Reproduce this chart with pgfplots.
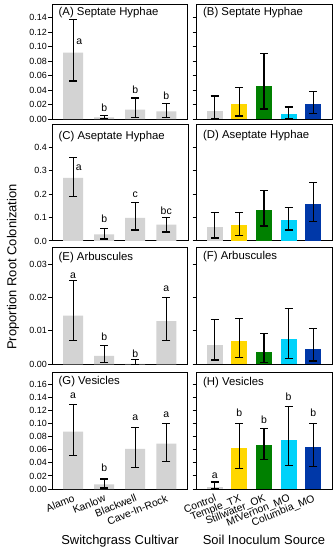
\documentclass[border=0pt]{standalone}
\usepackage{fontspec}
\setmainfont{Liberation Sans}
\usepackage{pgfplots}
\pgfplotsset{compat=1.18}

\definecolor{bargray}{RGB}{211,211,211}
\definecolor{bgold}{RGB}{255,215,0}
\definecolor{bgreen}{RGB}{0,128,0}
\definecolor{bcyan}{RGB}{0,210,250}
\definecolor{bblue}{RGB}{0,56,168}

\pgfplotsset{
  panel/.style={
    scale only axis, width=136bp, ymin=0,
    axis line style={line width=1bp},
    every tick/.style={line width=1bp, black},
    tick align=outside, major tick length=3.5bp,
    ytick pos=left,
    x tick style={draw=none},
    ybar, bar shift=0pt,
    scaled y ticks=false,
    /pgf/number format/assume math mode=true,
    yticklabel style={font=\fontsize{9}{10}\selectfont, inner sep=1.5bp},
    xticklabel style={rotate=22, anchor=north east, font=\fontsize{10.5}{12}\selectfont, inner sep=1bp},
    xlabel style={at={(axis description cs:0.5,0)}, anchor=base, yshift=-55bp, font=\fontsize{13}{15}\selectfont},
  },
  leftp/.style={panel, xmin=-0.68, xmax=3.7, bar width=20bp, xtick={0,1,2,3}},
  rightp/.style={panel, xmin=-0.76, xmax=4.76, bar width=16bp, xtick={0,1,2,3,4}, yticklabels={}},
  fmt2/.style={yticklabel style={/pgf/number format/fixed, /pgf/number format/fixed zerofill, /pgf/number format/precision=2}},
  fmt1/.style={yticklabel style={/pgf/number format/fixed, /pgf/number format/fixed zerofill, /pgf/number format/precision=1}},
  eb/.style={error bars/.cd, y dir=both, y explicit,
    error bar style={draw=black, line width=1.1bp},
    error mark options={rotate=90, draw=black, mark size=4bp, line width=1.1bp}},
}
\tikzset{
  ttl/.style={anchor=base west, inner sep=0pt, font=\fontsize{11.4}{13}\selectfont},
  lt/.style={inner sep=0pt, font=\fontsize{10.5}{12}\selectfont},
}

\begin{document}
\begin{tikzpicture}
\useasboundingbox (0,0) rectangle (335bp,-550bp);

% ---------- (A) ----------
\begin{axis}[leftp, fmt2, at={(52bp,-4bp)}, anchor=north west, height=115bp, ymax=0.159,
  ytick={0,0.02,0.04,0.06,0.08,0.10,0.12,0.14}, xticklabels={}]
\addplot[fill=bargray, draw=none, eb] coordinates {
  (0,0.0917) += (0,0.0460) -= (0,0.0392)
  (1,0.0023) += (0,0.0027) -= (0,0.0018)
  (2,0.0129) += (0,0.0161) -= (0,0.0106)
  (3,0.0106) += (0,0.0106) -= (0,0.0083)
};
\node[lt] at (axis cs:0.2,0.107) {a};
\node[lt] at (axis cs:1,0.016) {b};
\node[lt] at (axis cs:2,0.040) {b};
\node[lt] at (axis cs:3,0.032) {b};
\node[ttl] at ([xshift=6.5bp,yshift=-11bp]rel axis cs:0,1) {(A) Septate Hyphae};
\end{axis}

% ---------- (B) ----------
\begin{axis}[rightp, at={(196bp,-4bp)}, anchor=north west, height=115bp, ymax=0.159,
  ytick={0,0.02,0.04,0.06,0.08,0.10,0.12,0.14}, xticklabels={}]
\addplot[fill=bargray, draw=none, eb] coordinates {(0,0.0110) += (0,0.0208) -= (0,0.0110)};
\addplot[fill=bgold, draw=none, eb] coordinates {(1,0.0203) += (0,0.0235) -= (0,0.0162)};
\addplot[fill=bgreen, draw=none, eb] coordinates {(2,0.0451) += (0,0.0456) -= (0,0.0313)};
\addplot[fill=bcyan, draw=none, eb] coordinates {(3,0.0064) += (0,0.0102) -= (0,0.0054)};
\addplot[fill=bblue, draw=none, eb] coordinates {(4,0.0207) += (0,0.0175) -= (0,0.0129)};
\node[ttl] at ([xshift=7bp,yshift=-11bp]rel axis cs:0,1) {(B) Septate Hyphae};
\end{axis}

% ---------- (C) ----------
\begin{axis}[leftp, fmt1, at={(52bp,-124bp)}, anchor=north west, height=117bp, ymax=0.5,
  ytick={0,0.1,0.2,0.3,0.4}, xticklabels={}]
\addplot[fill=bargray, draw=none, eb] coordinates {
  (0,0.2700) += (0,0.0860) -= (0,0.0810)
  (1,0.0286) += (0,0.0244) -= (0,0.0200)
  (2,0.0986) += (0,0.0654) -= (0,0.0516)
  (3,0.0700) += (0,0.0310) -= (0,0.0314)
};
\node[lt] at (axis cs:0.18,0.314) {a};
\node[lt] at (axis cs:1,0.096) {b};
\node[lt] at (axis cs:2,0.196) {c};
\node[lt] at (axis cs:3,0.129) {bc};
\node[ttl] at ([xshift=6.5bp,yshift=-15bp]rel axis cs:0,1) {(C) Aseptate Hyphae};
\end{axis}

% ---------- (D) ----------
\begin{axis}[rightp, at={(196bp,-124bp)}, anchor=north west, height=117bp, ymax=0.5,
  ytick={0,0.1,0.2,0.3,0.4}, xticklabels={}]
\addplot[fill=bargray, draw=none, eb] coordinates {(0,0.0586) += (0,0.0644) -= (0,0.0456)};
\addplot[fill=bgold, draw=none, eb] coordinates {(1,0.0670) += (0,0.0560) -= (0,0.0430)};
\addplot[fill=bgreen, draw=none, eb] coordinates {(2,0.1330) += (0,0.0830) -= (0,0.0690)};
\addplot[fill=bcyan, draw=none, eb] coordinates {(3,0.0910) += (0,0.0520) -= (0,0.0440)};
\addplot[fill=bblue, draw=none, eb] coordinates {(4,0.1600) += (0,0.0910) -= (0,0.0760)};
\node[ttl] at ([xshift=7bp,yshift=-14bp]rel axis cs:0,1) {(D) Aseptate Hyphae};
\end{axis}

% ---------- (E) ----------
\begin{axis}[leftp, fmt2, at={(52bp,-247.3bp)}, anchor=north west, height=117bp, ymax=0.035,
  ytick={0,0.01,0.02,0.03}, xticklabels={}]
\addplot[fill=bargray, draw=none, eb] coordinates {
  (0,0.01455) += (0,0.01045) -= (0,0.00755)
  (1,0.0025) += (0,0.0031) -= (0,0.0020)
  (2,0.0001) += (0,0.0013) -= (0,0.0001)
  (3,0.0129) += (0,0.0071) -= (0,0.0058)
};
\node[lt] at (axis cs:0,0.0265) {a};
\node[lt] at (axis cs:1,0.0083) {b};
\node[lt] at (axis cs:2,0.0033) {b};
\node[lt] at (axis cs:3,0.0227) {a};
\node[ttl] at ([xshift=6.5bp,yshift=-13.4bp]rel axis cs:0,1) {(E) Arbuscules};
\end{axis}

% ---------- (F) ----------
\begin{axis}[rightp, at={(196bp,-247.3bp)}, anchor=north west, height=117bp, ymax=0.035,
  ytick={0,0.01,0.02,0.03}, xticklabels={}]
\addplot[fill=bargray, draw=none, eb] coordinates {(0,0.0057) += (0,0.0076) -= (0,0.0044)};
\addplot[fill=bgold, draw=none, eb] coordinates {(1,0.0070) += (0,0.0068) -= (0,0.0049)};
\addplot[fill=bgreen, draw=none, eb] coordinates {(2,0.0038) += (0,0.0054) -= (0,0.0032)};
\addplot[fill=bcyan, draw=none, eb] coordinates {(3,0.0075) += (0,0.0091) -= (0,0.0058)};
\addplot[fill=bblue, draw=none, eb] coordinates {(4,0.0047) += (0,0.0060) -= (0,0.0037)};
\node[ttl] at ([xshift=7bp,yshift=-12bp]rel axis cs:0,1) {(F) Arbuscules};
\end{axis}

% ---------- (G) ----------
\begin{axis}[leftp, fmt2, at={(52bp,-372.7bp)}, anchor=north west, height=116.3bp, ymax=0.178,
  ytick={0,0.02,0.04,0.06,0.08,0.10,0.12,0.14,0.16},
  xticklabels={Alamo, Kanlow, Blackwell, Cave-In-Rock},
  xlabel={Switchgrass Cultivar}]
\addplot[fill=bargray, draw=none, eb] coordinates {
  (0,0.0879) += (0,0.0421) -= (0,0.0363)
  (1,0.0072) += (0,0.0081) -= (0,0.0057)
  (2,0.0613) += (0,0.0332) -= (0,0.0286)
  (3,0.0695) += (0,0.0305) -= (0,0.0271)
};
\node[lt] at (axis cs:0,0.1426) {a};
\node[lt] at (axis cs:1,0.0327) {b};
\node[lt] at (axis cs:2,0.109) {a};
\node[lt] at (axis cs:3,0.113) {a};
\node[ttl] at ([xshift=6.5bp,yshift=-11.3bp]rel axis cs:0,1) {(G) Vesicles};
\end{axis}

% ---------- (H) ----------
\begin{axis}[rightp, at={(196bp,-372.7bp)}, anchor=north west, height=116.3bp, ymax=0.178,
  ytick={0,0.02,0.04,0.06,0.08,0.10,0.12,0.14,0.16},
  xticklabels={Control, Temple\_TX, Stillwater\_OK, MtVernon\_MO, Columbia\_MO},
  xlabel={Soil Inoculum Source}]
\addplot[fill=bargray, draw=none, eb] coordinates {(0,0.0026) += (0,0.0081) -= (0,0.0026)};
\addplot[fill=bgold, draw=none, eb] coordinates {(1,0.0629) += (0,0.0378) -= (0,0.0312)};
\addplot[fill=bgreen, draw=none, eb] coordinates {(2,0.0680) += (0,0.0250) -= (0,0.0235)};
\addplot[fill=bcyan, draw=none, eb] coordinates {(3,0.0756) += (0,0.0504) -= (0,0.0398)};
\addplot[fill=bblue, draw=none, eb] coordinates {(4,0.0644) += (0,0.0363) -= (0,0.0297)};
\node[lt] at (axis cs:0,0.0204) {a};
\node[lt] at (axis cs:1,0.117) {b};
\node[lt] at (axis cs:2,0.106) {b};
\node[lt] at (axis cs:3,0.1415) {b};
\node[lt] at (axis cs:4,0.117) {b};
\node[ttl] at ([xshift=7bp,yshift=-12.3bp]rel axis cs:0,1) {(H) Vesicles};
\end{axis}

\node[rotate=90, font=\fontsize{13}{15}\selectfont] at (13bp,-267bp) {Proportion Root Colonization};
\end{tikzpicture}
\end{document}
